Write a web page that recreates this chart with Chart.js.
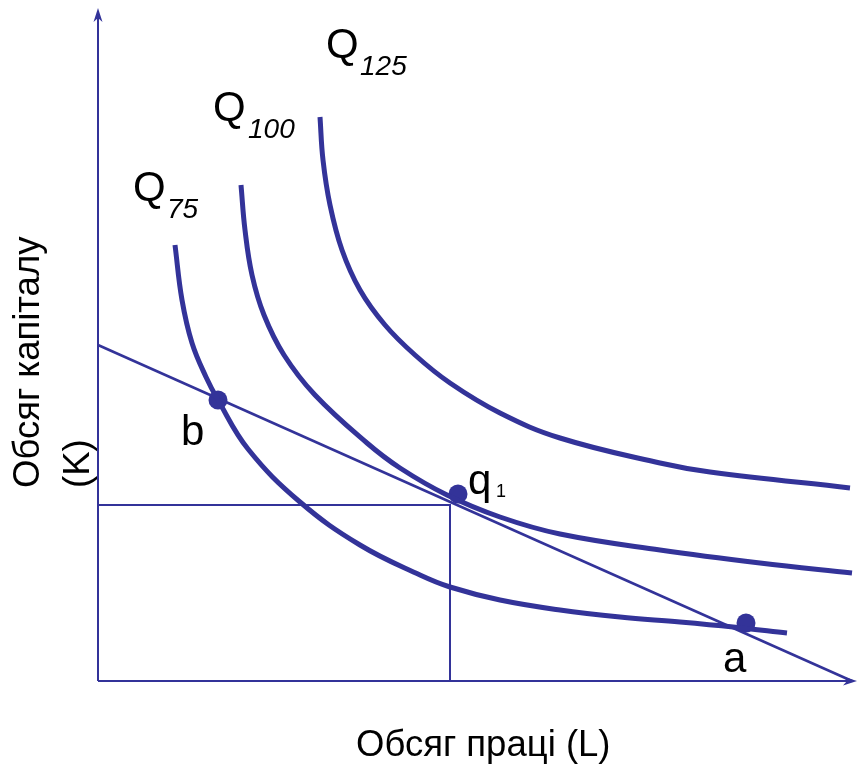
<!DOCTYPE html>
<html>
<head>
<meta charset="utf-8">
<script src="https://cdn.jsdelivr.net/npm/chart.js@4"></script>
<style>
   html, body { margin: 0; padding: 0; background: #fff; }
   canvas { display: block; }
</style>
</head>
<body>
<canvas id="isoquantChart" width="857" height="765"></canvas>
<script>
// labour (L) and capital (K) values of each isoquant
const q75L = [77, 84, 94, 108, 120, 150, 202, 262, 322, 352, 402, 462, 522, 582, 635, 689];
const q75K = [436, 381, 338, 304, 281, 232, 179, 136, 106, 94, 81, 71, 64, 59, 54, 48];

const q100L = [143, 147, 154, 166, 186, 217, 269, 302, 349, 402, 462, 562, 662, 754];
const q100K = [496, 451, 406, 366, 326, 286, 238, 213, 186, 164, 147, 131, 118, 108];

const q125L = [222, 225, 232, 244, 262, 287, 317, 352, 402, 462, 562, 612, 752];
const q125K = [564, 521, 476, 431, 391, 356, 326, 298, 268, 243, 218, 209, 193];

// isocost line and the optimum guide lines
const budgetL = [0, 754];
const budgetK = [336, 0];
const guideL = [0, 352, 352];
const guideK = [176, 176, 0];

// marked points b, q1, a
const pointNames = ["b", "q1", "a"];
const pointL = [120, 360, 648];
const pointK = [281, 187, 58];

const INK = "#333399";
const FONT = "'Liberation Sans', Arial, sans-serif";

function toPoints(xs, ys) {
   return xs.map((x, i) => ({ x, y: ys[i] }));
}

function curveDataset(label, xs, ys) {
   return {
      label,
      data: toPoints(xs, ys),
      showLine: true,
      borderColor: INK,
      borderWidth: 5,
      pointRadius: 0,
      tension: 0.4,
      borderCapStyle: "butt",
      fill: false
   };
}

const axesAndText = {
   id: "axesAndText",
   afterDatasetsDraw(chart) {
      const { ctx, scales } = chart;
      const x0 = scales.x.getPixelForValue(0);
      const y0 = scales.y.getPixelForValue(0);

      ctx.save();
      ctx.strokeStyle = INK;
      ctx.fillStyle = INK;
      ctx.lineWidth = 2;

      // axes
      ctx.beginPath();
      ctx.moveTo(x0, y0);
      ctx.lineTo(x0, 12);
      ctx.moveTo(x0, y0);
      ctx.lineTo(853, y0);
      ctx.stroke();

      // arrow heads
      ctx.beginPath();
      ctx.moveTo(x0, 8);
      ctx.lineTo(x0 - 4.5, 22);
      ctx.lineTo(x0, 18);
      ctx.lineTo(x0 + 4.5, 22);
      ctx.closePath();
      ctx.fill();
      ctx.beginPath();
      ctx.moveTo(857, y0);
      ctx.lineTo(843, y0 - 4.5);
      ctx.lineTo(847, y0);
      ctx.lineTo(843, y0 + 4.5);
      ctx.closePath();
      ctx.fill();

      ctx.fillStyle = "#000";
      ctx.textBaseline = "alphabetic";
      ctx.textAlign = "left";

      // isoquant labels
      const subLabels = [
         ["75", 133, 201, 167, 218],
         ["100", 213, 121, 248, 138],
         ["125", 326, 58, 360, 75]
      ];
      subLabels.forEach(([sub, qx, qy, sx, sy]) => {
         ctx.font = `42px ${FONT}`;
         ctx.fillText("Q", qx, qy);
         ctx.font = `italic 28px ${FONT}`;
         ctx.fillText(sub, sx, sy);
      });

      // point labels
      ctx.font = `42px ${FONT}`;
      ctx.fillText("b", 181, 445);
      ctx.fillText("a", 723, 672);
      ctx.fillText("q", 468, 494);
      ctx.font = `18px ${FONT}`;
      ctx.fillText("1", 496, 497);

      // axis titles
      ctx.font = `36.5px ${FONT}`;
      ctx.fillText("Обсяг праці (L)", 356, 756);

      ctx.rotate(-Math.PI / 2);
      ctx.fillText("Обсяг капіталу", -488, 39);
      ctx.fillText("(K)", -488, 89);
      ctx.restore();
   }
};

new Chart(document.getElementById("isoquantChart"), {
   type: "scatter",
   data: {
      datasets: [
         curveDataset("Q75", q75L, q75K),
         curveDataset("Q100", q100L, q100K),
         curveDataset("Q125", q125L, q125K),
         {
            label: "Isocost",
            data: toPoints(budgetL, budgetK),
            showLine: true,
            borderColor: INK,
            borderWidth: 2.5,
            pointRadius: 0
         },
         {
            label: "Guide",
            data: toPoints(guideL, guideK),
            showLine: true,
            borderColor: INK,
            borderWidth: 2,
            pointRadius: 0
         },
         {
            label: "Points",
            data: toPoints(pointL, pointK),
            showLine: false,
            pointRadius: 9.5,
            pointBackgroundColor: INK,
            pointBorderWidth: 0
         }
      ]
   },
   options: {
      responsive: false,
      animation: false,
      layout: { padding: 0, autoPadding: false },
      plugins: {
         legend: { display: false },
         tooltip: { enabled: false }
      },
      scales: {
         x: { type: "linear", min: -98, max: 759, display: false },
         y: { type: "linear", min: -84, max: 681, display: false }
      }
   },
   plugins: [axesAndText]
});
</script>
</body>
</html>
